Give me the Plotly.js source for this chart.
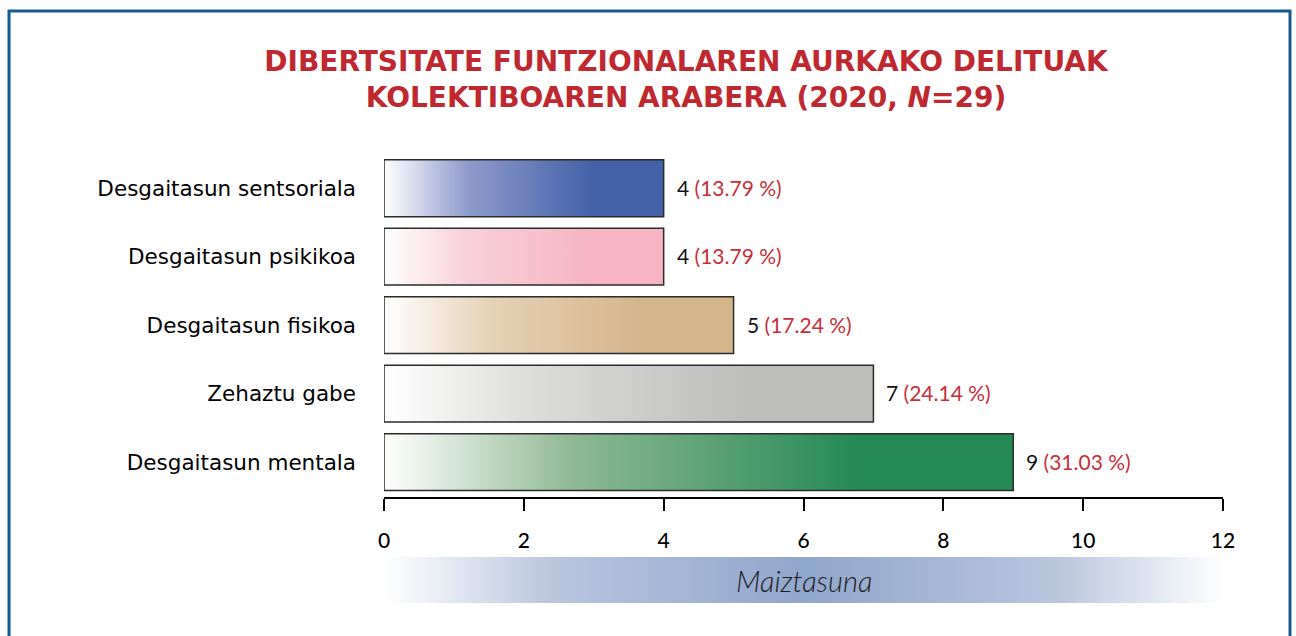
<!DOCTYPE html>
<html>
<head>
<meta charset="utf-8">
<script src="https://cdn.plot.ly/plotly-3.0.1.min.js"></script>
<style>html,body{margin:0;padding:0;background:#fff;}#chart{width:1296px;height:636px;}</style>
</head>
<body>
<div id="chart"></div>
<script>
// Data (bottom to top in the picture)
const categories = ["Desgaitasun mentala", "Zehaztu gabe", "Desgaitasun fisikoa", "Desgaitasun psikikoa", "Desgaitasun sentsoriala"];
const values = [9, 7, 5, 4, 4];
const percents = ["31.03", "24.14", "17.24", "13.79", "13.79"];
const total = 29;
const xTicks = [0, 2, 4, 6, 8, 10, 12];

const endColors = ["#268a55", "#bdbdbc", "#d4b48a", "#f6b4c2", "#4461a9"];
const midColors = ["#8fb992", "#dcdcdb", "#e6d2b7", "#f8d0d9", "#8e9acb"];

const half = 0.415;
const traces = categories.map((c, i) => {
  const v = values[i];
  return {
    type: "scatter",
    mode: "lines",
    x: [0, v, v, 0, 0],
    y: [i - half, i - half, i + half, i + half, i - half],
    fill: "toself",
    fillgradient: {
      type: "horizontal",
      colorscale: [[0, "#ffffff"], [0.3, midColors[i]], [0.75, endColors[i]], [1, endColors[i]]]
    },
    line: { color: "#2b2b2b", width: 1.5 },
    hoverinfo: "skip",
    showlegend: false
  };
});

const annotations = categories.map((c, i) => ({
  x: values[i], y: i, xref: "x", yref: "y",
  xanchor: "left", yanchor: "middle", xshift: 11, yshift: 1,
  showarrow: false,
  text: values[i] + " <span style='color:#c62f3a'>(" + percents[i] + " %)</span>",
  font: { family: "Lato, 'Noto Sans', sans-serif", size: 21, weight: 400, color: "#111111" }
}));

annotations.push({
  xref: "paper", yref: "paper", x: 0.5, y: (497 - 580) / 343,
  xanchor: "center", yanchor: "middle", showarrow: false,
  text: "<i>Maiztasuna</i>",
  font: { family: "Lato, 'Noto Sans', sans-serif", size: 29, weight: 300, color: "#1e1e1e" }
});

const bandSvg = "<svg xmlns='http://www.w3.org/2000/svg' width='840' height='46' preserveAspectRatio='none'>" +
  "<defs><linearGradient id='g' x1='0' x2='1' y1='0' y2='0'>" +
  "<stop offset='0' stop-color='#ffffff'/>" +
  "<stop offset='0.2' stop-color='#b9c6de'/>" +
  "<stop offset='0.5' stop-color='#8fa7cb'/>" +
  "<stop offset='0.8' stop-color='#b9c6de'/>" +
  "<stop offset='1' stop-color='#ffffff'/>" +
  "</linearGradient></defs><rect width='840' height='46' fill='url(#g)'/></svg>";

const layout = {
  width: 1296, height: 636,
  margin: { l: 384, r: 73, t: 154, b: 139 },
  paper_bgcolor: "#ffffff", plot_bgcolor: "#ffffff",
  title: {
    text: "<b>DIBERTSITATE FUNTZIONALAREN AURKAKO DELITUAK<br>KOLEKTIBOAREN ARABERA (2020, <i>N</i>=29)</b>",
    x: 686 / 1296, xref: "container", xanchor: "center",
    y: 1 - 71 / 636, yref: "container", yanchor: "middle",
    font: { family: "'DejaVu Sans', sans-serif", size: 28, color: "#c0282f" }
  },
  xaxis: {
    range: [0, 12], tickvals: xTicks, ticktext: xTicks.map(String),
    showgrid: false, zeroline: false, showline: true, linecolor: "#000", linewidth: 2,
    ticks: "outside", ticklen: 12, tickwidth: 2, tickcolor: "#000",
    ticklabelstandoff: 12,
    tickfont: { family: "Lato, 'Noto Sans', sans-serif", size: 21, weight: 500, color: "#000" },
    fixedrange: true
  },
  yaxis: {
    range: [-0.51, 4.5], tickvals: categories.map((c, i) => i), ticktext: categories,
    showgrid: false, zeroline: false, showline: false, ticks: "",
    ticklabelstandoff: 27,
    tickfont: { family: "'DejaVu Sans', sans-serif", size: 21.5, color: "#000" },
    fixedrange: true
  },
  annotations: annotations,
  images: [{
    source: "data:image/svg+xml;charset=utf-8," + encodeURIComponent(bandSvg),
    xref: "paper", yref: "paper", x: 0, y: (497 - 557) / 343,
    sizex: 1.002, sizey: 46 / 343, sizing: "stretch",
    xanchor: "left", yanchor: "top", layer: "below"
  }],
  shapes: [{
    type: "rect", xref: "paper", yref: "paper",
    x0: (9 - 384) / 839, x1: (1290 - 384) / 839,
    y0: (497 - 700) / 343, y1: (497 - 11) / 343,
    line: { color: "#175b8e", width: 3 }, fillcolor: "rgba(0,0,0,0)", layer: "below"
  }]
};

Plotly.newPlot("chart", traces, layout, { displayModeBar: false, staticPlot: true });
</script>
</body>
</html>
